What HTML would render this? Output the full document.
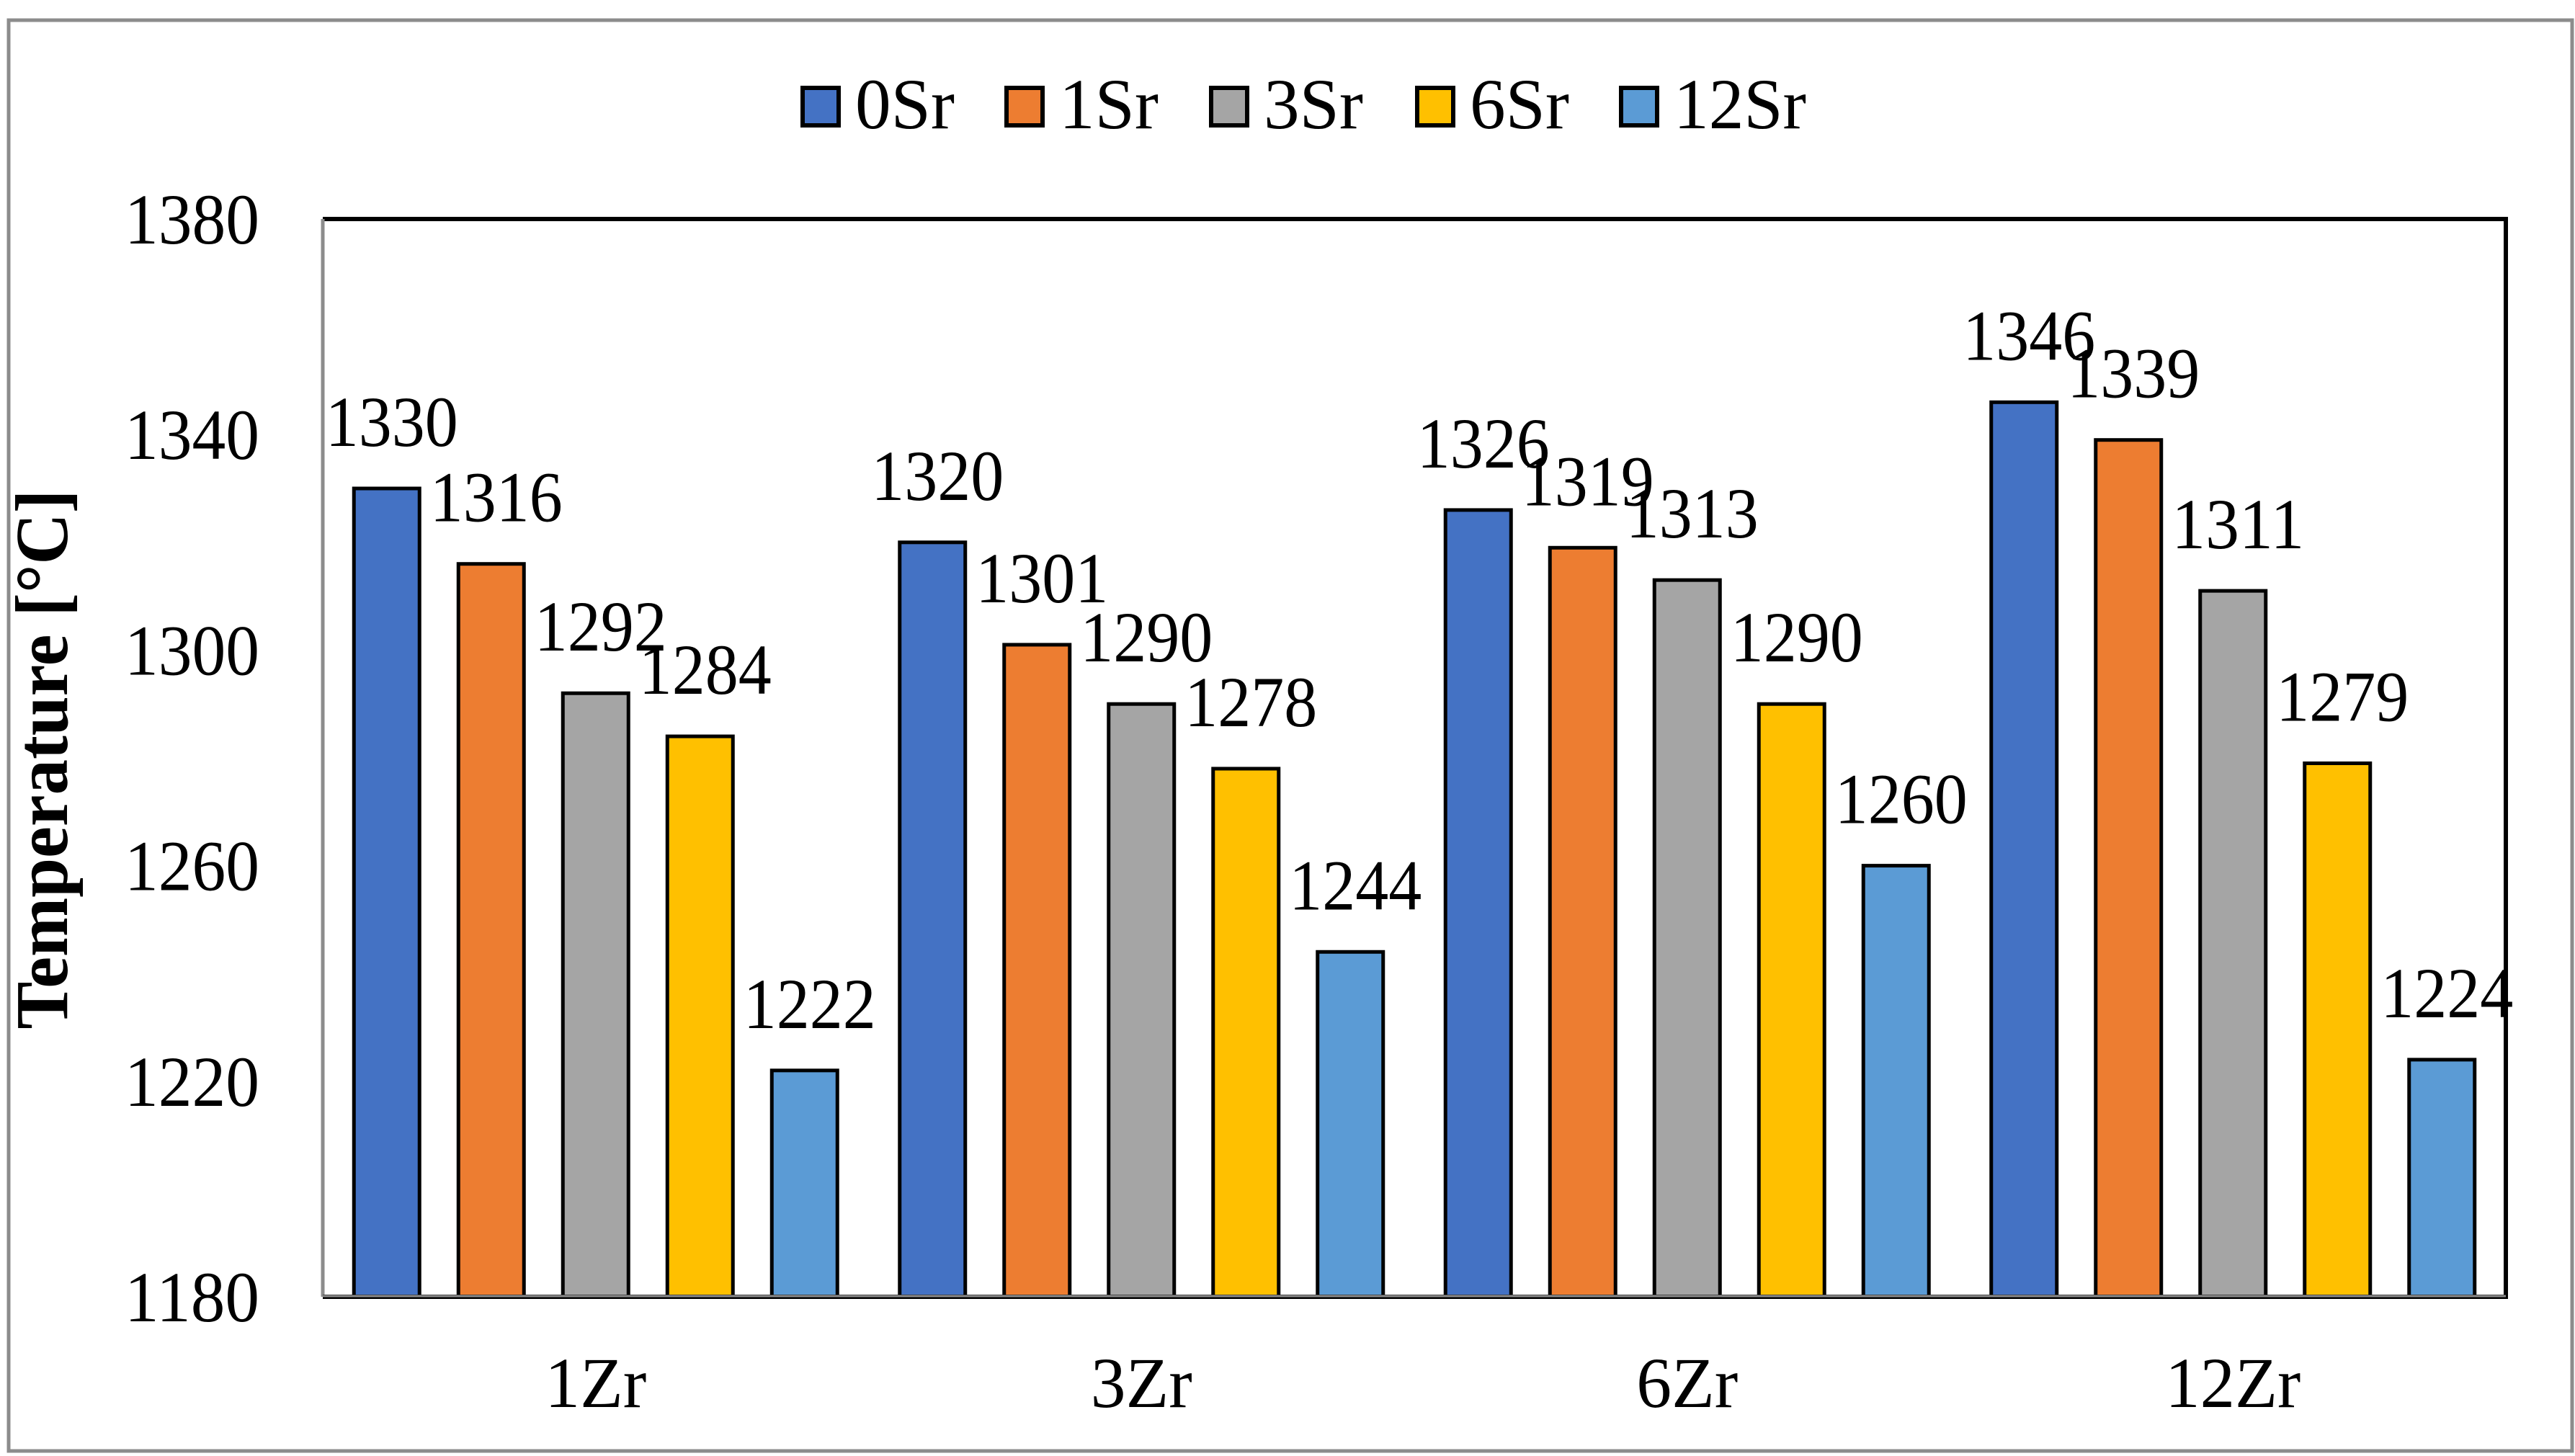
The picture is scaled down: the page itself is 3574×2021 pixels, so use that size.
<!DOCTYPE html>
<html><head><meta charset="utf-8"><style>
html,body{margin:0;padding:0;background:#fff;}
svg{display:block;}
text{font-family:"Liberation Serif","Times New Roman",Times,serif;}
</style></head><body>
<svg width="3574" height="2021" viewBox="0 0 3574 2021">
<rect x="12" y="28" width="3558" height="1986" fill="#fff" stroke="#8c8c8c" stroke-width="5"/>
<g id="bars"></g>
<g id="labels"></g>
<g id="axes"></g>
<g id="legend"></g>
<text x="93" y="1054" font-size="104" font-weight="bold" text-anchor="middle" textLength="749" lengthAdjust="spacingAndGlyphs" transform="rotate(-90 93 1054)">Temperature [°C]</text>
</svg>
<script>
const categories = ["1Zr","3Zr","6Zr","12Zr"];
const seriesNames = ["0Sr","1Sr","3Sr","6Sr","12Sr"];
const s0Sr = [1330,1320,1326,1346];
const s1Sr = [1316,1301,1319,1339];
const s3Sr = [1292,1290,1313,1311];
const s6Sr = [1284,1278,1290,1279];
const s12Sr = [1222,1244,1260,1224];
const yTicks = [1180,1220,1260,1300,1340,1380];
const yMin = 1180, yMax = 1380;

const colors = ["#4472c4","#ed7d31","#a5a5a5","#ffc000","#5b9bd5"];
const series = [s0Sr,s1Sr,s3Sr,s6Sr,s12Sr];
const NS="http://www.w3.org/2000/svg";
const L=448,R=3478,T=304,B=1800;
function y(v){return B-(v-yMin)/(yMax-yMin)*(B-T);}
const gw=(R-L)/categories.length, pitch=145, bw=91;
function x(ci,si){return L+ci*gw+(gw-(pitch*5-(pitch-bw)))/2+si*pitch;}
function mk(tag,attrs,parent){const e=document.createElementNS(NS,tag);for(const k in attrs)e.setAttribute(k,attrs[k]);parent.appendChild(e);return e;}
function tl(s){return String(s).length*46;}
const gb=document.getElementById('bars'),gl=document.getElementById('labels'),ga=document.getElementById('axes'),lg=document.getElementById('legend');
series.forEach((s,si)=>{s.forEach((v,ci)=>{
 const r=mk('rect',{x:x(ci,si),y:y(v),width:bw,height:B-y(v),fill:colors[si],stroke:'#000','stroke-width':5},gb);
 
 
 const t=mk('text',{x:x(ci,si)+bw/2+7,y:y(v)-59,'font-size':100,'text-anchor':'middle',textLength:tl(v),lengthAdjust:'spacingAndGlyphs'},gl);
 t.textContent=v;
 
 
});});
const frame=mk('path',{d:`M${L} ${T} H${R} V${B}`,fill:'none',stroke:'#000','stroke-width':6},ga);


const yax=mk('line',{x1:L,y1:T,x2:L,y2:B,stroke:'#8c8c8c','stroke-width':5},ga);


const xax=mk('line',{x1:L,y1:B,x2:R+3,y2:B,stroke:'#000','stroke-width':6},ga);


mk('line',{x1:L,y1:B-1,x2:R,y2:B-1,stroke:'#8c8c8c','stroke-width':3},ga);
yTicks.forEach(v=>{
 const t=mk('text',{x:360,y:y(v)+34,'font-size':100,'text-anchor':'end',textLength:187,lengthAdjust:'spacingAndGlyphs'},ga);
 t.textContent=v;
 
 
});
categories.forEach((c,ci)=>{
 const t=mk('text',{x:L+gw*(ci+0.5),y:1953,'font-size':100,'text-anchor':'middle',textLength:c.length*47,lengthAdjust:'spacingAndGlyphs'},ga);
 t.textContent=c;
 
 
});
const lx=[1111,1394,1678,1964,2247];
seriesNames.forEach((n,i)=>{
 const g=mk('g',{},lg);
 
 
 mk('rect',{x:lx[i]+3,y:122,width:50,height:52,fill:colors[i],stroke:'#000','stroke-width':6},g);
 const t=mk('text',{x:lx[i]+76,y:178,'font-size':100,textLength:n.length*46,lengthAdjust:'spacingAndGlyphs'},g);
 t.textContent=n;
});
</script>
</body></html>
